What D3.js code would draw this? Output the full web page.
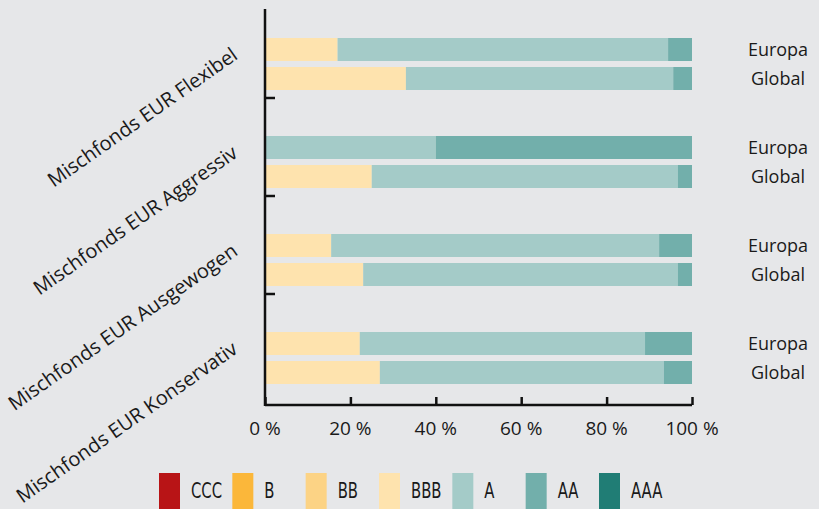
<!DOCTYPE html>
<html>
<head>
<meta charset="utf-8">
<script src="https://cdn.jsdelivr.net/npm/d3@7"></script>
<style>
  body { margin: 0; background: #e6e7e9; }
  text { font-family: "Open Sans", "Noto Sans", sans-serif; fill: #1a1a1a; }
</style>
</head>
<body>
<div id="chart"></div>
<script>
var width = 819, height = 509;

var groups = ["Mischfonds EUR Flexibel", "Mischfonds EUR Aggressiv", "Mischfonds EUR Ausgewogen", "Mischfonds EUR Konservativ"];
var regions = ["Europa", "Global"];
var ratings = ["CCC", "B", "BB", "BBB", "A", "AA", "AAA"];
var ratingColors = ["#b81416", "#fbb73a", "#fcd385", "#fee3ae", "#a4cbc8", "#72afab", "#207d75"];

// values in % per rating, order: Flexibel Europa/Global, Aggressiv E/G, Ausgewogen E/G, Konservativ E/G
var ccc = [0, 0, 0, 0, 0, 0, 0, 0];
var b   = [0, 0, 0, 0, 0, 0, 0, 0];
var bb  = [0, 0.4, 0, 0, 0, 0, 0, 0];
var bbb = [17, 32.6, 0, 25, 15.5, 23, 22.2, 26.9];
var a   = [77.4, 62.6, 40, 71.7, 76.8, 73.7, 66.8, 66.5];
var aa  = [5.6, 4.4, 60, 3.3, 7.7, 3.3, 11, 6.6];
var aaa = [0, 0, 0, 0, 0, 0, 0, 0];

var xTicks = [0, 20, 40, 60, 80, 100];

var series = [ccc, b, bb, bbb, a, aa, aaa];
var rows = [];
groups.forEach(function (g, gi) {
    regions.forEach(function (r, ri) {
        var row = {group: g, region: r};
        ratings.forEach(function (k, ki) { row[k] = series[ki][gi * 2 + ri]; });
        rows.push(row);
    });
});

const svg = d3.select("#chart")
    .append("svg")
    .attr("width", width)
    .attr("height", height);

svg.append("rect")
    .attr("width", width)
    .attr("height", height)
    .attr("fill", "#e6e7e9");

var x = d3.scaleLinear().domain([0, 100]).range([265, 692]);
var yGroup = d3.scaleBand().domain(groups).range([0, 392]);
var ySub = d3.scaleBand().domain(regions).range([38, 90]).paddingInner(6 / 29);
var color = d3.scaleOrdinal().domain(ratings).range(ratingColors);

var stacked = d3.stack().keys(ratings)(rows);

svg.append("g")
    .selectAll("g")
    .data(stacked)
    .join("g")
    .attr("fill", d => color(d.key))
    .selectAll("rect")
    .data(d => d)
    .join("rect")
    .attr("x", d => x(d[0]))
    .attr("width", d => x(d[1]) - x(d[0]))
    .attr("y", d => yGroup(d.data.group) + ySub(d.data.region))
    .attr("height", ySub.bandwidth());

// region labels on the right
svg.append("g")
    .selectAll("text")
    .data(rows)
    .join("text")
    .attr("x", 778)
    .attr("y", d => yGroup(d.group) + ySub(d.region) + ySub.bandwidth() / 2)
    .attr("dy", "0.36em")
    .attr("text-anchor", "middle")
    .style("font-size", "18px")
    .text(d => d.region);

// rotated group labels
svg.append("g")
    .selectAll("text")
    .data(groups)
    .join("text")
    .attr("text-anchor", "end")
    .attr("transform", d => "translate(239," + (yGroup(d) + 58) + ") rotate(-35)")
    .style("font-size", "20px")
    .text(d => d);

// y axis line with ticks between groups
svg.append("line")
    .attr("x1", x(0)).attr("x2", x(0))
    .attr("y1", 9).attr("y2", 406)
    .attr("stroke", "#111").attr("stroke-width", 2.5);

svg.append("g")
    .selectAll("line")
    .data(groups.slice(1))
    .join("line")
    .attr("x1", x(0)).attr("x2", x(0) + 10)
    .attr("y1", d => yGroup(d))
    .attr("y2", d => yGroup(d))
    .attr("stroke", "#111").attr("stroke-width", 2.5);

// x axis
const xAxis = svg.append("g")
    .attr("transform", "translate(0,405)")
    .call(d3.axisTop(x).tickValues(xTicks).tickSize(8).tickFormat(""));
xAxis.select(".domain").attr("stroke", "#111").attr("stroke-width", 2.5)
    .attr("d", "M" + x(0) + ",0H" + x(100));
xAxis.selectAll(".tick line").attr("stroke", "#111").attr("stroke-width", 2.5);

svg.append("g")
    .selectAll("text")
    .data(xTicks)
    .join("text")
    .attr("x", d => x(d))
    .attr("y", 435)
    .attr("text-anchor", "middle")
    .style("font-size", "19px")
    .text(d => d + "\u00a0%");

// legend
var legendX = d3.scalePoint().domain(ratings).range([159, 599]);
const legend = svg.append("g")
    .selectAll("g")
    .data(ratings)
    .join("g")
    .attr("transform", d => "translate(" + legendX(d) + ",473)");

legend.append("rect")
    .attr("width", 21)
    .attr("height", 40)
    .attr("fill", d => color(d));

legend.append("text")
    .attr("transform", "translate(32,24.5) scale(0.75,1)")
    .style("font-family", "'Liberation Sans Narrow', 'DejaVu Sans Condensed', sans-serif")
    .style("font-size", "22px")
    .text(d => d);
</script>
</body>
</html>
